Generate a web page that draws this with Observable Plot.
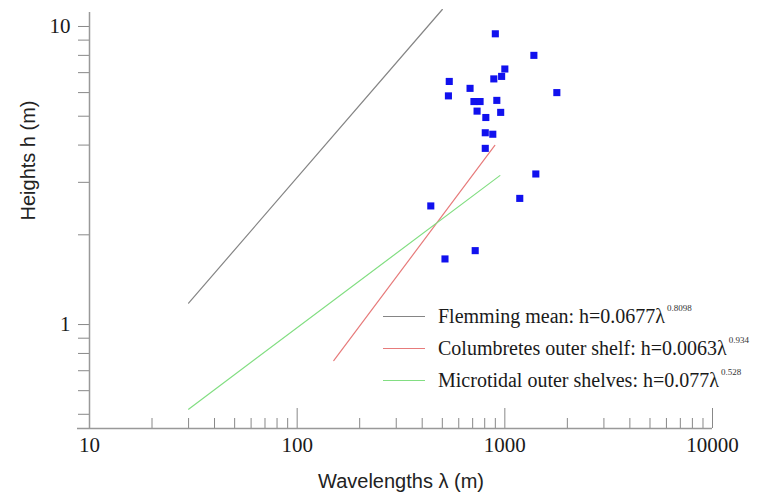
<!DOCTYPE html>
<html><head><meta charset="utf-8">
<script src="https://cdn.jsdelivr.net/npm/d3@7"></script>
<script src="https://cdn.jsdelivr.net/npm/@observablehq/plot@0.6"></script>
<style>
body{margin:0;background:#fff;}
#wrap{position:relative;width:765px;height:502px;}
.legend{position:absolute;left:383px;top:0;font-family:"Liberation Serif",serif;font-size:20px;color:#1a1a1a;}
.item{position:absolute;left:0;height:24px;white-space:nowrap;display:flex;align-items:center;}
.sw{width:42px;height:0;border-top:1.3px solid;margin-right:13px;}
.sup{font-size:9px;position:relative;top:-8px;margin-left:2px;color:#333;}
</style></head><body><div id="wrap"></div>
<script>
// Observed data points (wavelength λ in m, height h in m)
const pointLambda = [900, 1380, 1000, 965, 885, 540, 680, 535, 1780, 710, 760, 915, 735, 955, 810, 805, 875, 805, 440, 1180, 1410, 720, 515];
const pointHeight = [9.45, 8.0, 7.2, 6.8, 6.67, 6.54, 6.2, 5.85, 6.0, 5.6, 5.6, 5.65, 5.2, 5.15, 4.95, 4.4, 4.35, 3.9, 2.5, 2.65, 3.2, 1.77, 1.66];

// Fitted relations (endpoints)
const fitNames = ["Flemming mean", "Columbretes outer shelf", "Microtidal outer shelves"];
const fitCoef = ["0.0677", "0.0063", "0.077"];
const fitExp = ["0.8098", "0.934", "0.528"];
const fitLambda = [[30, 500], [150, 895], [30, 946]];
const fitHeight = [[1.18, 11.4], [0.757, 3.99], [0.52, 3.16]];
const fitColors = ["#858585", "#e77b7b", "#82de82"];

// Axes
const xMajor = [10, 100, 1000, 10000];
const xMinor = [20, 30, 40, 50, 60, 70, 80, 90, 200, 300, 400, 500, 600, 700, 800, 900, 2000, 3000, 4000, 5000, 6000, 7000, 8000, 9000];
const yTicks = [0.5, 0.6, 0.7, 0.8, 0.9, 1, 2, 3, 4, 5, 6, 7, 8, 9, 10];
const yLabels = [1, 10];
const yDomain = [0.448, 11.14];
const xDomain = [10, 10000];

const rows = pointLambda.map((l, i) => ({l, h: pointHeight[i]}));
const fitRows = fitNames.flatMap((n, i) => fitLambda[i].map((l, j) => ({name: n, l, h: fitHeight[i][j]})));

const chart = Plot.plot({
  width: 765, height: 502,
  marginLeft: 89, marginRight: 53, marginTop: 12, marginBottom: 74,
  x: {type: "log", domain: xDomain},
  y: {type: "log", domain: yDomain},
  color: {domain: fitNames, range: fitColors},
  style: {fontFamily: "Liberation Serif", fontSize: "21px", color: "#1a1a1a", background: "#fff", overflow: "visible"},
  marks: [
    Plot.ruleX(xMinor, {stroke: "#888", insetTop: 406}),
    Plot.ruleX(xMajor, {stroke: "#888", insetTop: 396}),
    Plot.axisX({ticks: xMajor, tickSize: 0, tickPadding: 9, tickFormat: d => String(d), label: null, fontSize: 21, fill: "#1a1a1a"}),
    Plot.axisY({ticks: yTicks, tickSize: 11, tickPadding: 8, tickFormat: d => yLabels.includes(d) ? String(d) : "", label: null, stroke: "#888", fill: "#1a1a1a", fontSize: 21}),
    Plot.ruleX([xDomain[0]], {stroke: "#999", strokeWidth: 1.5}),
    Plot.ruleY([yDomain[0]], {stroke: "#999", strokeWidth: 1.5, insetLeft: -12}),
    Plot.line(fitRows, {x: "l", y: "h", z: "name", stroke: "name", strokeWidth: 1.2}),
    Plot.dot(rows, {x: "l", y: "h", symbol: "square", r: 4, fill: "#1111ee", stroke: null}),
    Plot.text(["Heights h (m)"], {frameAnchor: "left", dx: -61, rotate: -90, fontFamily: "Liberation Sans", fontSize: 20, fill: "#222"}),
    Plot.text(["Wavelengths λ (m)"], {frameAnchor: "bottom", dy: 59, fontFamily: "Liberation Sans", fontSize: 20, fill: "#222"})
  ]
});
const wrap = document.getElementById("wrap");
wrap.appendChild(chart);

const legend = document.createElement("div");
legend.className = "legend";
const tops = [304, 336, 368];
fitNames.forEach((n, i) => {
  const item = document.createElement("div");
  item.className = "item";
  item.style.top = tops[i] + "px";
  const sw = document.createElement("span");
  sw.className = "sw";
  sw.style.borderTopColor = fitColors[i];
  item.appendChild(sw);
  const t = document.createElement("span");
  t.textContent = `${n}: h=${fitCoef[i]}λ`;
  item.appendChild(t);
  const s = document.createElement("span");
  s.className = "sup";
  s.textContent = fitExp[i];
  item.appendChild(s);
  legend.appendChild(item);
});
wrap.appendChild(legend);
</script></body></html>
